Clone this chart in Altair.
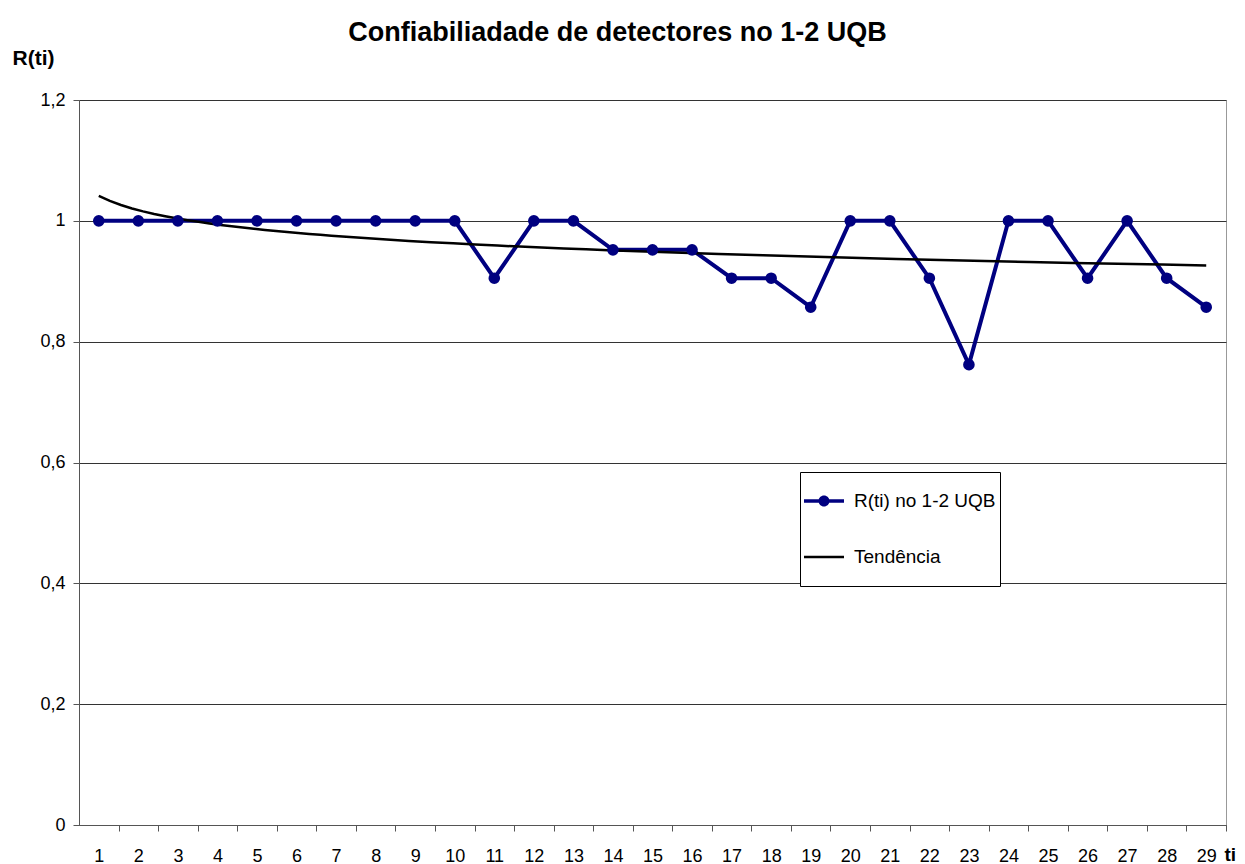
import altair as alt
import pandas as pd

# ---- data ----
ti = list(range(1, 30))
r_values = [1, 1, 1, 1, 1, 1, 1, 1, 1, 1,
            0.905, 1, 1, 0.952, 0.952, 0.952, 0.905, 0.905, 0.857, 1,
            1, 0.905, 0.762, 1, 1, 0.905, 1, 0.905, 0.857]
series_names = ["R(ti) no 1-2 UQB", "Tendência"]
series_colors = ["#000080", "#000000"]
y_ticks = [0, 0.2, 0.4, 0.6, 0.8, 1.0, 1.2]

# legend glyphs: line with a dot, and a plain line (unit-square SVG paths;
# the zero-length segments at y=-1 / y=1 only set the glyph's full height)
legend_glyphs = [
    "M0,-1L0,-1M0,1L0,1M-1,-0.07H0.6V0.07H-1Z M-0.42,0A0.22,0.22,0,1,1,0.02,0A0.22,0.22,0,1,1,-0.42,0Z",
    "M0,-1L0,-1M0,1L0,1M-1,-0.05H0.6V0.05H-1Z",
]

df = pd.DataFrame({"ti": ti, "R": r_values, "serie": series_names[0]})

W, H = 1147, 725
half = W / 29 / 2
FONT = "Liberation Sans"

x_scale = alt.Scale(domain=[0.5, 29.5], nice=False, zero=False)
y_scale = alt.Scale(domain=[0, 1.2], nice=False)

x_axis = alt.Axis(
    values=[0] + ti, tickOffset=half, labelOffset=-half,
    labelExpr="datum.value < 1 ? '' : datum.label",
    grid=False, labelOverlap=False, labelBound=False, labelFlush=False,
    tickSize=6, tickColor="#555555", domainColor="#555555",
    labelFontSize=18, labelPadding=16, labelColor="black",
    title="ti", titleFontSize=19, titleFontWeight="bold", titleColor="black",
    titleAngle=0, titleAlign="left", titleBaseline="middle",
    titleX=W - 2, titleY=29,
)
y_axis = alt.Axis(
    values=y_ticks, labelExpr="replace(format(datum.value, '~g'), '.', ',')",
    grid=True, gridColor="#333333", gridWidth=1,
    tickSize=6, tickColor="#555555", domainColor="#555555",
    labelFontSize=18, labelPadding=8, labelColor="black",
    title="R(ti)", titleFontSize=21, titleFontWeight="bold", titleColor="black",
    titleAngle=0, titleAlign="left", titleBaseline="middle",
    titleX=-67, titleY=-42,
)

color = alt.Color("serie:N", scale=alt.Scale(domain=series_names, range=series_colors), title=None)

line = alt.Chart(df).mark_line(strokeWidth=4).encode(
    x=alt.X("ti:Q", scale=x_scale, axis=x_axis),
    y=alt.Y("R:Q", scale=y_scale, axis=y_axis),
    color=color,
)
points = alt.Chart(df).mark_point(filled=True, size=135, opacity=1).encode(
    x=alt.X("ti:Q", scale=x_scale),
    y=alt.Y("R:Q", scale=y_scale),
    color=color,
)
trend = alt.Chart(df).transform_regression(
    "ti", "R", method="log", extent=[1, 29]
).transform_calculate(serie="'Tendência'").mark_line(strokeWidth=2.5).encode(
    x=alt.X("ti:Q", scale=x_scale),
    y=alt.Y("R:Q", scale=y_scale),
    color=color,
)
legend_layer = alt.Chart(df).transform_filter("false").mark_point(
    filled=True, size=2500, opacity=1
).encode(
    x=alt.X("ti:Q", scale=x_scale),
    y=alt.Y("R:Q", scale=y_scale),
    color=color,
    shape=alt.Shape("serie:N", scale=alt.Scale(domain=series_names, range=legend_glyphs), title=None),
)

chart = alt.layer(line, trend, points, legend_layer).properties(
    width=W, height=H,
    padding={"left": 71, "top": 92, "right": 11, "bottom": 39},
    autosize=alt.AutoSizeParams(type="none"),
    title=alt.TitleParams(
        "Confiabiliadade de detectores no 1-2 UQB",
        fontSize=27, fontWeight="bold", font=FONT, anchor="middle",
        frame="group", dx=-35, offset=0, color="black",
    ),
).configure_view(
    stroke="#999999", strokeWidth=1
).configure_axis(
    labelFont=FONT, titleFont=FONT
).configure_legend(
    orient="none", legendX=721, legendY=372,
    fillColor="white", strokeColor="black", padding=4,
    labelFont=FONT, labelFontSize=19, labelColor="black",
    symbolSize=2500, symbolStrokeWidth=0,
    rowPadding=6, labelOffset=0,
)

chart.save("out.html", embed_options={"renderer": "svg", "actions": False})
